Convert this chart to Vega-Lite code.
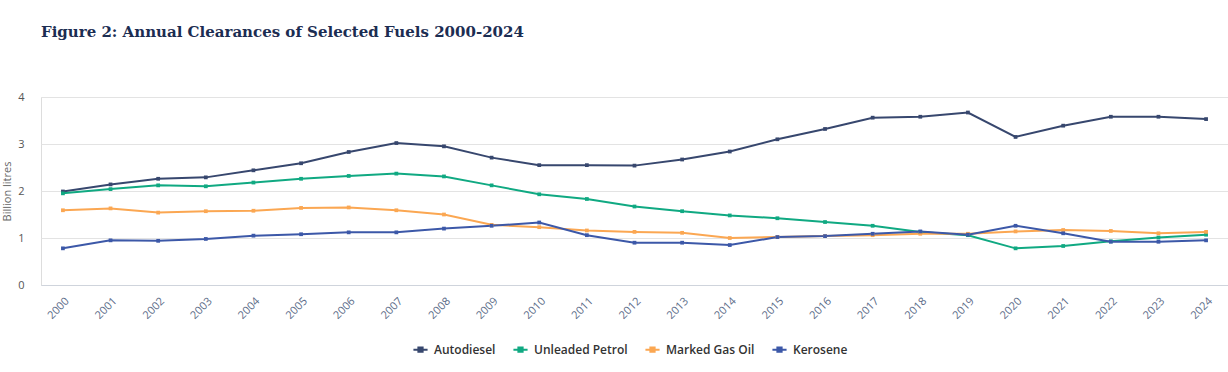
{
  "$schema": "https://vega.github.io/schema/vega-lite/v6.json",
  "width": 1187,
  "height": 188,
  "autosize": "none",
  "padding": {"left": 41, "top": 97, "right": 0, "bottom": 87},
  "background": "white",
  "title": {
    "text": "Figure 2: Annual Clearances of Selected Fuels 2000-2024",
    "anchor": "start",
    "frame": "group",
    "font": "DejaVu Serif",
    "fontSize": 15,
    "fontWeight": "bold",
    "color": "#1c2d52",
    "offset": 51
  },
  "data": {
    "values": [
      {"year": "2000", "Autodiesel": 1.99, "Unleaded Petrol": 1.95, "Marked Gas Oil": 1.59, "Kerosene": 0.78},
      {"year": "2001", "Autodiesel": 2.14, "Unleaded Petrol": 2.04, "Marked Gas Oil": 1.63, "Kerosene": 0.95},
      {"year": "2002", "Autodiesel": 2.26, "Unleaded Petrol": 2.12, "Marked Gas Oil": 1.54, "Kerosene": 0.94},
      {"year": "2003", "Autodiesel": 2.29, "Unleaded Petrol": 2.10, "Marked Gas Oil": 1.57, "Kerosene": 0.98},
      {"year": "2004", "Autodiesel": 2.44, "Unleaded Petrol": 2.18, "Marked Gas Oil": 1.58, "Kerosene": 1.05},
      {"year": "2005", "Autodiesel": 2.59, "Unleaded Petrol": 2.26, "Marked Gas Oil": 1.64, "Kerosene": 1.08},
      {"year": "2006", "Autodiesel": 2.83, "Unleaded Petrol": 2.32, "Marked Gas Oil": 1.65, "Kerosene": 1.12},
      {"year": "2007", "Autodiesel": 3.02, "Unleaded Petrol": 2.37, "Marked Gas Oil": 1.59, "Kerosene": 1.12},
      {"year": "2008", "Autodiesel": 2.95, "Unleaded Petrol": 2.31, "Marked Gas Oil": 1.50, "Kerosene": 1.20},
      {"year": "2009", "Autodiesel": 2.71, "Unleaded Petrol": 2.12, "Marked Gas Oil": 1.28, "Kerosene": 1.26},
      {"year": "2010", "Autodiesel": 2.55, "Unleaded Petrol": 1.93, "Marked Gas Oil": 1.23, "Kerosene": 1.33},
      {"year": "2011", "Autodiesel": 2.55, "Unleaded Petrol": 1.83, "Marked Gas Oil": 1.16, "Kerosene": 1.06},
      {"year": "2012", "Autodiesel": 2.54, "Unleaded Petrol": 1.67, "Marked Gas Oil": 1.13, "Kerosene": 0.90},
      {"year": "2013", "Autodiesel": 2.67, "Unleaded Petrol": 1.57, "Marked Gas Oil": 1.11, "Kerosene": 0.90},
      {"year": "2014", "Autodiesel": 2.84, "Unleaded Petrol": 1.48, "Marked Gas Oil": 1.00, "Kerosene": 0.85},
      {"year": "2015", "Autodiesel": 3.10, "Unleaded Petrol": 1.42, "Marked Gas Oil": 1.02, "Kerosene": 1.02},
      {"year": "2016", "Autodiesel": 3.32, "Unleaded Petrol": 1.34, "Marked Gas Oil": 1.04, "Kerosene": 1.04},
      {"year": "2017", "Autodiesel": 3.56, "Unleaded Petrol": 1.26, "Marked Gas Oil": 1.06, "Kerosene": 1.09},
      {"year": "2018", "Autodiesel": 3.58, "Unleaded Petrol": 1.13, "Marked Gas Oil": 1.09, "Kerosene": 1.14},
      {"year": "2019", "Autodiesel": 3.67, "Unleaded Petrol": 1.06, "Marked Gas Oil": 1.09, "Kerosene": 1.07},
      {"year": "2020", "Autodiesel": 3.15, "Unleaded Petrol": 0.78, "Marked Gas Oil": 1.14, "Kerosene": 1.26},
      {"year": "2021", "Autodiesel": 3.39, "Unleaded Petrol": 0.83, "Marked Gas Oil": 1.17, "Kerosene": 1.10},
      {"year": "2022", "Autodiesel": 3.58, "Unleaded Petrol": 0.93, "Marked Gas Oil": 1.15, "Kerosene": 0.92},
      {"year": "2023", "Autodiesel": 3.58, "Unleaded Petrol": 1.01, "Marked Gas Oil": 1.10, "Kerosene": 0.92},
      {"year": "2024", "Autodiesel": 3.53, "Unleaded Petrol": 1.07, "Marked Gas Oil": 1.13, "Kerosene": 0.95}
    ]
  },
  "transform": [
    {"fold": ["Autodiesel", "Unleaded Petrol", "Marked Gas Oil", "Kerosene"], "as": ["fuel", "value"]}
  ],
  "mark": {"type": "line", "strokeWidth": 2, "point": {"size": 14, "filled": true, "opacity": 1, "shape": "square"}},
  "encoding": {
    "x": {
      "field": "year",
      "type": "ordinal",
      "scale": {"type": "point", "padding": 0.46},
      "axis": {
        "title": null,
        "labelAngle": -45,
        "labelFont": "Open Sans",
        "labelFontSize": 11,
        "labelColor": "#5b6b88",
        "domain": true,
        "domainColor": "#cfd4dc",
        "ticks": false,
        "labelPadding": 10,
        "grid": false
      }
    },
    "y": {
      "field": "value",
      "type": "quantitative",
      "scale": {"domain": [0, 4], "nice": false},
      "axis": {
        "title": "Billion litres",
        "titleFont": "Open Sans",
        "titleFontSize": 11,
        "titleFontWeight": "normal",
        "titleColor": "#666666",
        "titlePadding": 5,
        "values": [0, 1, 2, 3, 4],
        "labelFont": "Open Sans",
        "labelFontSize": 11,
        "labelColor": "#555555",
        "labelPadding": 17,
        "domain": false,
        "ticks": false,
        "gridColor": "#e3e3e3",
        "gridWidth": 1
      }
    },
    "color": {
      "field": "fuel",
      "type": "nominal",
      "sort": ["Autodiesel", "Unleaded Petrol", "Marked Gas Oil", "Kerosene"],
      "scale": {
        "domain": ["Autodiesel", "Unleaded Petrol", "Marked Gas Oil", "Kerosene"],
        "range": ["#37476e", "#10a982", "#fba752", "#3c58a8"]
      },
      "legend": {
        "title": null,
        "orient": "none",
        "legendX": 371,
        "legendY": 244,
        "direction": "horizontal",
        "labelFont": "Open Sans",
        "labelFontSize": 12,
        "labelFontWeight": 600,
        "labelColor": "#333333",
        "symbolType": "M-1,0H1M-0.3,-0.3H0.3V0.3H-0.3Z",
        "symbolSize": 200,
        "symbolStrokeWidth": 2,
        "columnPadding": 13,
        "labelOffset": 5
      }
    }
  }
}
